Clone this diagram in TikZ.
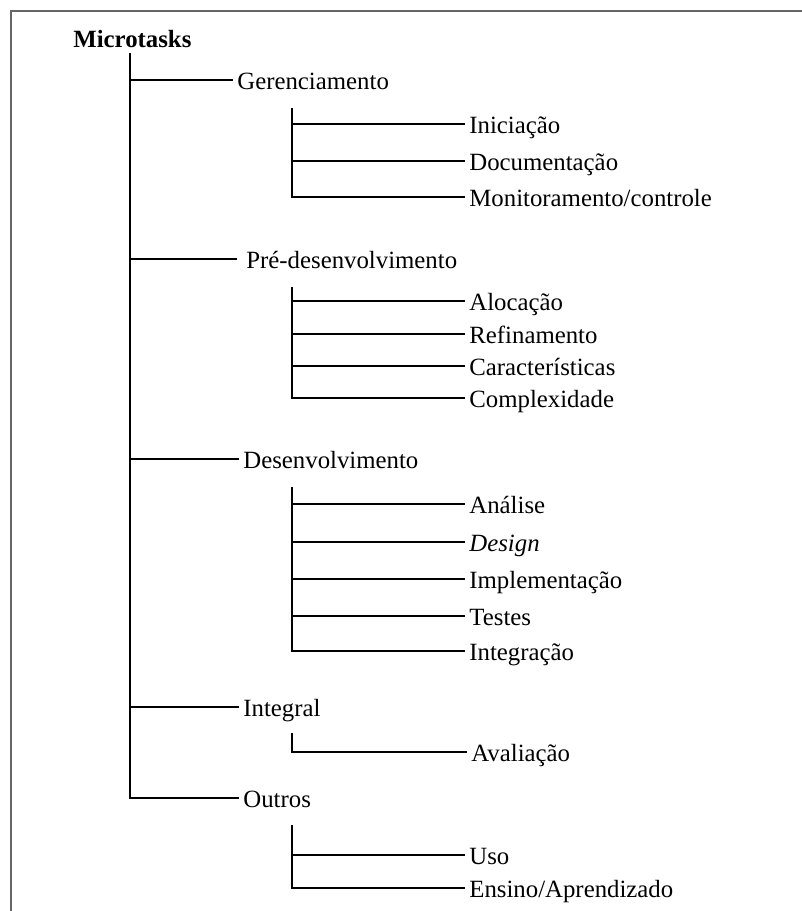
\documentclass[tikz,border=0pt]{standalone}
\usepackage{fontspec}
\setmainfont{Liberation Serif}
\usetikzlibrary{positioning}

\tikzset{
  tree/.style={line width=1pt},
  frame/.style={line width=1pt, black!60},
  item/.style={anchor=west, inner sep=2pt, text height=12pt, text depth=2.7pt,
    font=\fontsize{12.4}{14}\selectfont},
  rootlabel/.style={anchor=base west, inner sep=0pt,
    font=\fontsize{12.4}{14}\selectfont\bfseries},
}

\begin{document}
\begin{tikzpicture}[x=0.5pt, y=-0.5pt]
  \useasboundingbox (0,0) rectangle (802,911);
  \draw[frame] (11,911) -- (11,11) -- (802,11);

  \node[rootlabel] (root) at (73,47) {Microtasks};

  % first level
  \coordinate (t0) at (130,53);
  \node[item] (ger) at (233,80) {Gerenciamento};
  \node[item] (pre) at (242,259) {Pré-desenvolvimento};
  \node[item] (des) at (239,459) {Desenvolvimento};
  \node[item] (itg) at (239,707) {Integral};
  \node[item] (out) at (239,798) {Outros};
  \draw[tree] (t0) |- (out.west);
  \foreach \n in {ger,des,itg}
    \draw[tree] (t0 |- \n.west) -- (\n.west);
  \draw[tree, shorten >=2.5pt] (t0 |- pre.west) -- (pre.west);

  % Gerenciamento
  \coordinate (g0) at (292,108);
  \node[item] (ini) at (465,124) {Iniciação};
  \node[item] (doc) at (465,161) {Documentação};
  \node[item] (mon) at (465,197) {Monitoramento/controle};
  \draw[tree] (g0) |- (mon.west);
  \foreach \n in {ini,doc}
    \draw[tree] (g0 |- \n.west) -- (\n.west);

  % Pre-desenvolvimento
  \coordinate (p0) at (292,287);
  \node[item] (alo) at (465,301) {Alocação};
  \node[item] (ref) at (465,334) {Refinamento};
  \node[item] (car) at (465,366) {Características};
  \node[item] (cpx) at (465,398) {Complexidade};
  \draw[tree] (p0) |- (cpx.west);
  \foreach \n in {alo,ref,car}
    \draw[tree] (p0 |- \n.west) -- (\n.west);

  % Desenvolvimento
  \coordinate (d0) at (292,487);
  \node[item] (ana) at (465,504) {Análise};
  \node[item] (dsg) at (465,542) {\textit{Design}};
  \node[item] (imp) at (465,579) {Implementação};
  \node[item] (tst) at (465,616) {Testes};
  \node[item] (itc) at (465,651) {Integração};
  \draw[tree] (d0) |- (itc.west);
  \foreach \n in {ana,dsg,imp,tst}
    \draw[tree] (d0 |- \n.west) -- (\n.west);

  % Integral
  \coordinate (i0) at (292,733);
  \node[item] (ava) at (467,752) {Avaliação};
  \draw[tree] (i0) |- (ava.west);

  % Outros
  \coordinate (o0) at (292,825);
  \node[item] (uso) at (465,855) {Uso};
  \node[item] (ens) at (465,888) {Ensino/Aprendizado};
  \draw[tree] (o0) |- (ens.west);
  \draw[tree] (o0 |- uso.west) -- (uso.west);
\end{tikzpicture}
\end{document}
